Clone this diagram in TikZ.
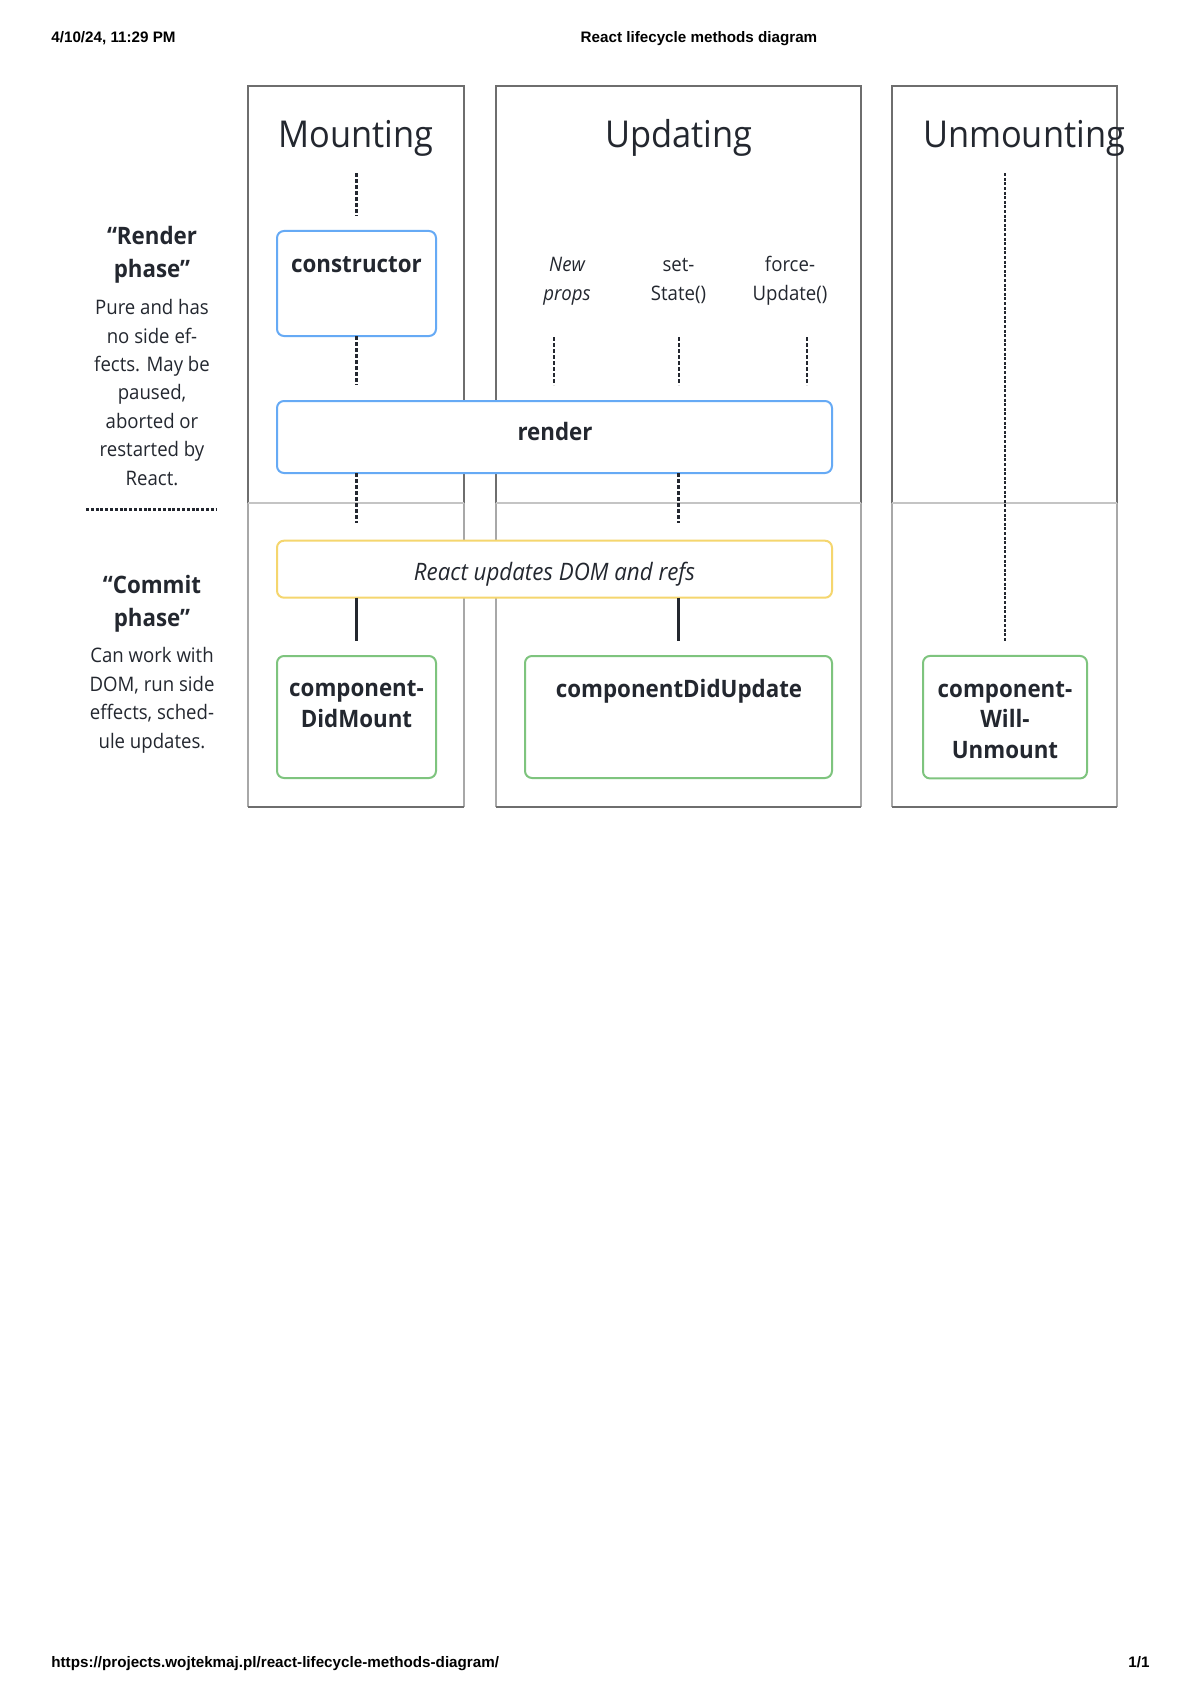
\documentclass[tikz,border=0pt]{standalone}
\usepackage{fontspec}
\setmainfont{Open Sans}[FakeStretch=0.93]
\newfontfamily\hdrfont{Liberation Sans}
\definecolor{ink}{RGB}{35,39,47}
\definecolor{colDark}{RGB}{110,110,110}
\definecolor{colLight}{RGB}{168,168,168}
\definecolor{sepGray}{RGB}{196,196,196}
\definecolor{boxBlue}{RGB}{102,170,245}
\definecolor{boxYellow}{RGB}{245,214,110}
\definecolor{boxGreen}{RGB}{126,196,126}
\tikzset{
  colhi/.style={draw=colDark, line width=1.4pt},
  collo/.style={draw=colLight, line width=1.1pt},
  phasesep/.style={draw=sepGray, line width=0.9pt},
  methodbox/.style={fill=white, line width=1pt, rounded corners=3.5pt, inner sep=0pt, outer sep=0pt},
  bluebox/.style={methodbox, draw=boxBlue},
  yellowbox/.style={methodbox, draw=boxYellow},
  greenbox/.style={methodbox, draw=boxGreen},
  conn/.style={draw=ink, line width=1.3pt},
  dashconn/.style={conn, dash pattern=on 2pt off 1pt},
  dotconn/.style={conn, line width=1.2pt, dash pattern=on 1.5pt off 0.8pt},
  leftsep/.style={draw=ink, line width=1.5pt, dash pattern=on 1.5pt off 0.9pt},
  titletext/.style={text=ink, font=\fontsize{18.5}{22}\selectfont, inner sep=0pt, outer sep=0pt},
  methodtext/.style={text=ink, font=\fontsize{12}{15.2}\selectfont\bfseries, align=center, inner sep=0pt},
  phasetitle/.style={text=ink, font=\fontsize{12}{16.5}\selectfont\bfseries, align=center, inner sep=0pt},
  phasedesc/.style={text=ink, font=\fontsize{10}{14.2}\selectfont, align=center, inner sep=0pt},
  triggertext/.style={text=ink, font=\fontsize{10}{14.5}\selectfont, align=center, inner sep=0pt},
  domtext/.style={text=ink, font=\fontsize{12}{15}\selectfont\itshape, inner sep=0pt},
  hdr/.style={text=black, font=\hdrfont\fontsize{7.6}{9}\selectfont\bfseries, inner sep=0pt},
}
\begin{document}
\begin{tikzpicture}[x=0.5pt,y=-0.5pt]
\useasboundingbox (0,0) rectangle (1200,1696);
\fill[white] (0,0) rectangle (1200,1696);

% header / footer
\node[hdr, anchor=base west] (date) at (51,43) {4/10/24, 11:29 PM};
\node[hdr, anchor=base] (pagetitle) at (699,43) {React lifecycle methods diagram};
\node[hdr, anchor=base west] (url) at (51,1667) {https://projects.wojtekmaj.pl/react-lifecycle-methods-diagram/};
\node[hdr, anchor=base east] (pagenum) at (1150,1667) {1/1};

% columns
\draw[collo] (248,503) -- (248,807);
\draw[collo] (464,503) -- (464,807);
\draw[colhi] (248,807) -- (464,807);
\draw[colhi] (248,503) -- (248,86) -- (464,86) -- (464,503);
\draw[phasesep] (248,503) -- (464,503);

\draw[collo] (496,503) -- (496,807);
\draw[collo] (861,503) -- (861,807);
\draw[colhi] (496,807) -- (861,807);
\draw[colhi] (496,503) -- (496,86) -- (861,86) -- (861,503);
\draw[phasesep] (496,503) -- (861,503);

\draw[collo] (892,503) -- (892,807);
\draw[collo] (1117,503) -- (1117,807);
\draw[colhi] (892,807) -- (1117,807);
\draw[colhi] (892,503) -- (892,86) -- (1117,86) -- (1117,503);
\draw[phasesep] (892,503) -- (1117,503);

% titles
\node[titletext, anchor=base] (mtitle) at (356,148) {Mounting};
\node[titletext, anchor=base] (utitle) at (679,148) {Updating};
\node[titletext, anchor=base west] (untitle) at (923,148) {Unmounting};

% left phase labels (anchor=base = baseline of the last line)
\node[phasetitle, anchor=base] (renderphase) at (152,278) {“Render\\phase”};
\node[phasedesc, anchor=base] (renderdesc) at (152,485) {Pure and has\\no side ef-\\fects. May be\\paused,\\aborted or\\restarted by\\React.};
\draw[leftsep] (86,509) -- (217,509);
\node[phasetitle, anchor=base] (commitphase) at (152,626) {“Commit\\phase”};
\node[phasedesc, anchor=base] (commitdesc) at (152,748) {Can work with\\DOM, run side\\effects, sched-\\ule updates.};

% method boxes
\node[bluebox, minimum width=79.5pt, minimum height=52.5pt] (ctor) at (356.5,283.5) {};
\node[methodtext, anchor=base] (ctorT) at (356.5,272) {constructor};

\node[bluebox, minimum width=277.5pt, minimum height=36pt] (render) at (554.5,437) {};
\node[methodtext, anchor=base] (renderT) at (555,440) {render};

\node[yellowbox, minimum width=277.5pt, minimum height=28.5pt] (dom) at (554.5,569.2) {};
\node[domtext, anchor=base] (domT) at (554.5,580) {React updates DOM and refs};

\node[greenbox, minimum width=79.5pt, minimum height=61pt] (didmount) at (356.5,717) {};
\node[methodtext, anchor=base] (didmountT) at (356.5,727) {component-\\DidMount};

\node[greenbox, minimum width=153.5pt, minimum height=61pt] (didupdate) at (678.5,717) {};
\node[methodtext, anchor=base] (didupdateT) at (679,697) {componentDidUpdate};

\node[greenbox, minimum width=82pt, minimum height=61.25pt] (willun) at (1005,717.2) {};
\node[methodtext, anchor=base] (willunT) at (1005,758) {component-\\Will-\\Unmount};

% update triggers
\node[triggertext, anchor=base, font=\fontsize{10}{14.5}\selectfont\itshape] (np) at (567,300) {New\\props};
\node[triggertext, anchor=base] (ss) at (678.5,300) {set-\\State()};
\node[triggertext, anchor=base] (fu) at (790,300) {force-\\Update()};
\coordinate (npEnd) at (554,337);
\coordinate (ssEnd) at (679,337);
\coordinate (fuEnd) at (807,337);

% connectors
\draw[dashconn, shorten <=8.2pt, shorten >=7.5pt] (mtitle.south -| ctor.north) -- (ctor.north);
\draw[dashconn, shorten >=8pt] (ctor.south) -- (ctor.south |- render.north);
\draw[dashconn, shorten >=8pt] (npEnd) -- (npEnd |- render.north);
\draw[dashconn, shorten >=8pt] (ssEnd) -- (ssEnd |- render.north);
\draw[dashconn, shorten >=8pt] (fuEnd) -- (fuEnd |- render.north);
\draw[dashconn, shorten >=8.8pt] (render.south -| ctor.south) -- (dom.north -| ctor.south);
\draw[dashconn, shorten >=8.8pt] (render.south -| didupdate.north) -- (dom.north -| didupdate.north);
\draw[conn, shorten >=7.5pt] (dom.south -| didmount.north) -- (didmount.north);
\draw[conn, shorten >=7.5pt] (dom.south -| didupdate.north) -- (didupdate.north);
\draw[dotconn, shorten <=8.2pt, shorten >=7.5pt] (untitle.south -| willun.north) -- (willun.north);
\end{tikzpicture}
\end{document}
